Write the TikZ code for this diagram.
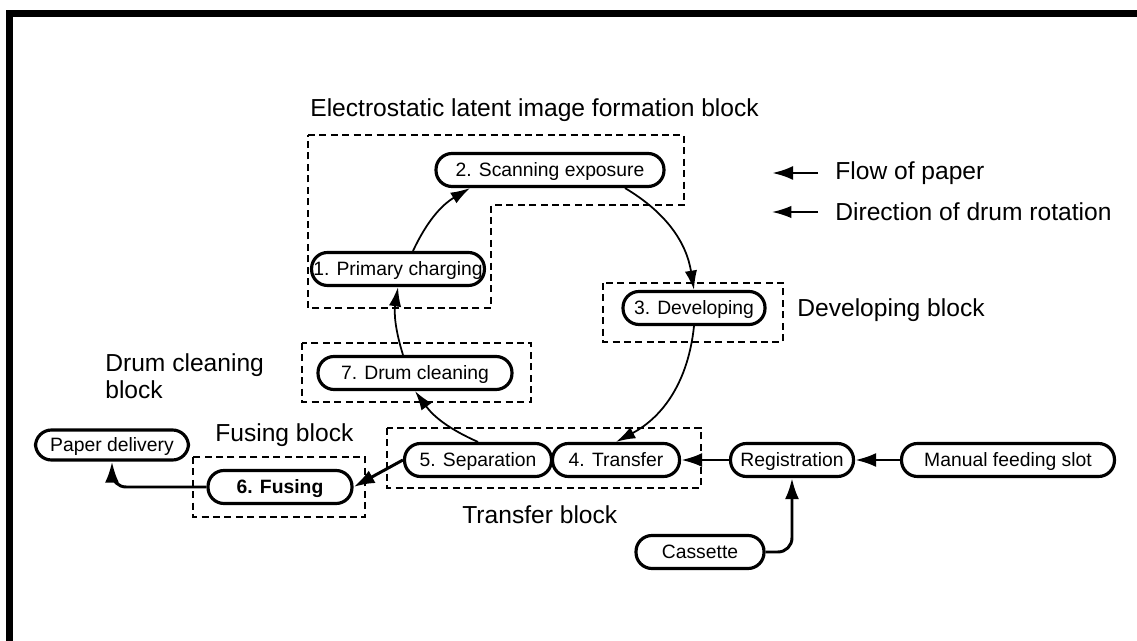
\documentclass[tikz,border=0pt]{standalone}
\usepackage{fontspec}
\setmainfont{Liberation Sans}
\usetikzlibrary{arrows.meta, positioning, calc}

\begin{document}
\begin{tikzpicture}[
    x=0.02cm, y=0.02cm,
    stage/.style={draw, line width=1.8pt, rounded corners=0.32cm, font=\fontsize{11}{13}\selectfont,
        minimum height=0.66cm, inner xsep=1pt, inner ysep=2pt, text height=0.8em, text depth=0.08em},
    grp/.style={draw, line width=0.8pt, dash pattern=on 4pt off 2.5pt},
    lbl/.style={font=\fontsize{14}{15.3}\selectfont, anchor=west, inner sep=0pt},
    paper/.style={-{Latex[length=12pt, width=8pt]}, line width=1.7pt},
    drum/.style={-{Latex[length=11pt, width=7pt]}, line width=1pt}
]
    \useasboundingbox (0,0) rectangle (1137,-641);
    % frame
    \draw[line width=4pt] (9.5,-641) -- (9.5,-13.5) -- (1137,-13.5);

    % blocks
    \draw[grp] (308,-135) -- (684,-135) -- (684,-205) -- (491,-205) -- (491,-308) -- (308,-308) -- cycle;
    \draw[grp] (603,-283) rectangle (783,-342);
    \draw[grp] (302,-343) rectangle (531,-402);
    \draw[grp] (387,-428) rectangle (701,-488);
    \draw[grp] (193,-457) rectangle (365,-517);

    % stages
    \node[stage, minimum width=4.56cm] (scan) at (550,-170) {2. Scanning exposure\hspace{0.35cm}};
    \node[stage, minimum width=3.4cm] (charge) at (398,-269) {1. Primary charging};
    \node[stage, minimum width=2.84cm] (devel) at (694,-308) {3. Developing};
    \node[stage, minimum width=3.88cm] (clean) at (415,-373) {7. Drum cleaning};
    \node[stage, minimum width=2.94cm] (separ) at (478,-460) {5. Separation};
    \node[stage, minimum width=2.54cm] (transf) at (616,-460) {4. Transfer};
    \node[stage, minimum width=2.46cm] (regis) at (792,-460) {Registration};
    \node[stage, minimum width=4.26cm] (manual) at (1008,-460) {Manual feeding slot};
    \node[stage, minimum width=2.56cm] (cass) at (700,-552) {Cassette};
    \node[stage, minimum width=2.88cm, font=\fontsize{11}{13}\selectfont\bfseries] (fuse) at (280,-487) {6. Fusing};
    \node[stage, minimum width=3.06cm, minimum height=0.6cm] (deliv) at (112,-445) {Paper delivery};

    % labels
    \node[lbl] (tlatent) at (310,-110) {Electrostatic latent image formation block};
    \node[lbl] (tdevel) at (797,-310) {Developing block};
    \node[lbl, align=left] (tclean) at (105,-376) {Drum cleaning\\block};
    \node[lbl] (tfuse) at (215,-435) {Fusing block};
    \node[lbl] (ttransf) at (462,-515) {Transfer block};
    \node[lbl] (tflow) at (835,-173) {Flow of paper};
    \node[lbl] (trot) at (835,-212) {Direction of drum rotation};

    % legend
    \draw[paper] ($(tflow.west)+(-17,0)$) -- ($(tflow.west)+(-63,0)$);
    \draw[drum] ($(trot.west)+(-17,0)$) -- ($(trot.west)+(-63,0)$);

    % drum rotation
    \draw[drum] ($(charge.north)+(15,0)$) to[bend left=17] ($(scan.south)+(-80,0)$);
    \draw[drum] ($(scan.south)+(75,0)$) to[bend left=25] (devel.north);
    \draw[drum] (devel.south) to[bend left=28] (transf.north);
    \draw[drum] (separ.north) to[bend left=15] (clean.south);
    \draw[drum] ($(clean.north)+(-12,0)$) to[bend left=13] (charge.south);

    % paper path
    \draw[paper] (manual.west) -- (regis.east);
    \draw[paper] (regis.west) -- (transf.east);
    \draw[paper, rounded corners=8pt] (cass.east) -| (regis.south);
    \draw[paper] (separ.west) -- (fuse.east);
    \draw[paper, rounded corners=8pt] (fuse.west) -| (deliv.south);
\end{tikzpicture}
\end{document}
